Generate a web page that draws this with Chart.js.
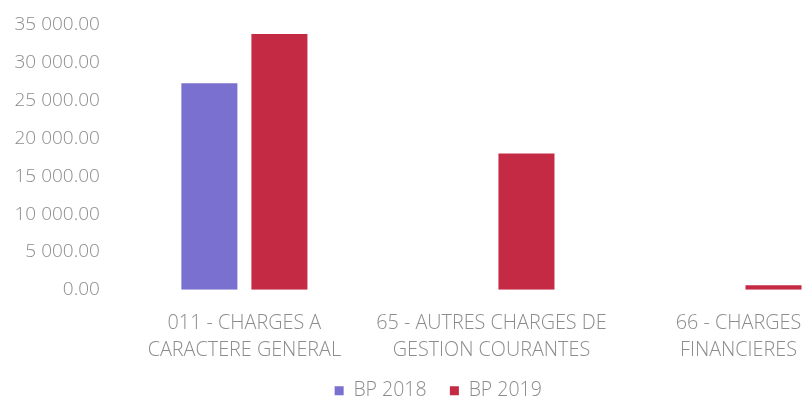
<!DOCTYPE html>
<html>
<head>
<meta charset="utf-8">
<script src="https://cdn.jsdelivr.net/npm/chart.js@4.4.0/dist/chart.umd.min.js"></script>
<style>
  html, body { margin: 0; padding: 0; background: #fff; overflow: hidden; }
  #wrap { width: 887px; height: 403px; }
</style>
</head>
<body>
<div id="wrap"><canvas id="chart" width="887" height="403"></canvas></div>
<script>
// categories and series
var categories = [
  ["011 - CHARGES A", "CARACTERE GENERAL"],
  ["65 - AUTRES CHARGES DE", "GESTION COURANTES"],
  ["66 - CHARGES", "FINANCIERES"]
];
var bp2018 = [27300, 0, 0];
var bp2019 = [33800, 18000, 600];
var yTicks = [0, 5000, 10000, 15000, 20000, 25000, 30000, 35000];

function formatNumber(v) {
  var parts = v.toFixed(2).split(".");
  parts[0] = parts[0].replace(/\B(?=(\d{3})+(?!\d))/g, " ");
  return parts.join(".");
}

var grey = "#8c8c8c";
Chart.defaults.font.family = "'Open Sans', Lato, sans-serif";
Chart.defaults.font.size = 19;
Chart.defaults.font.weight = 300;
Chart.defaults.color = grey;

const data = {
  labels: categories,
  datasets: [{
    label: "BP 2018",
    data: bp2018,
    backgroundColor: "#7a70cf"
  }, {
    label: "BP 2019",
    data: bp2019,
    backgroundColor: "#c42a44"
  }]
};

const config = {
  type: "bar",
  data: data,
  options: {
    responsive: false,
    animation: false,
    categoryPercentage: 0.567,
    barPercentage: 0.8,
    layout: { padding: { top: 25, left: 14.5, right: 25, bottom: -7.5 } },
    plugins: {
      tooltip: { enabled: false },
      legend: {
        position: "bottom",
        labels: {
          boxWidth: 9,
          boxHeight: 9,
          padding: 3,
          font: { size: 19.5 },
          generateLabels: function (chart) {
            var items = Chart.defaults.plugins.legend.labels.generateLabels(chart);
            // extra room between the two legend entries
            items[0].text = items[0].text + "    ";
            return items;
          }
        }
      }
    },
    scales: {
      x: {
        grid: { display: false, drawTicks: false },
        border: { display: false },
        ticks: { padding: 20, maxRotation: 0, font: { size: 19.8, lineHeight: 1.37 } },
        // tick padding is counted twice in the axis height, take some back
        afterFit: function (axis) { axis.height -= 6; }
      },
      y: {
        min: 0,
        max: 35000,
        grid: { display: false, drawTicks: false },
        border: { display: false },
        afterBuildTicks: function (axis) {
          axis.ticks = yTicks.map(function (v) { return { value: v }; });
        },
        ticks: {
          padding: 21,
          callback: function (v) { return formatNumber(v); }
        },
        afterFit: function (axis) {
          axis.width -= 21;
          axis.paddingTop = 0;
          axis.paddingBottom = 0;
        }
      }
    }
  }
};

const myChart = new Chart(document.getElementById("chart"), config);
</script>
</body>
</html>
